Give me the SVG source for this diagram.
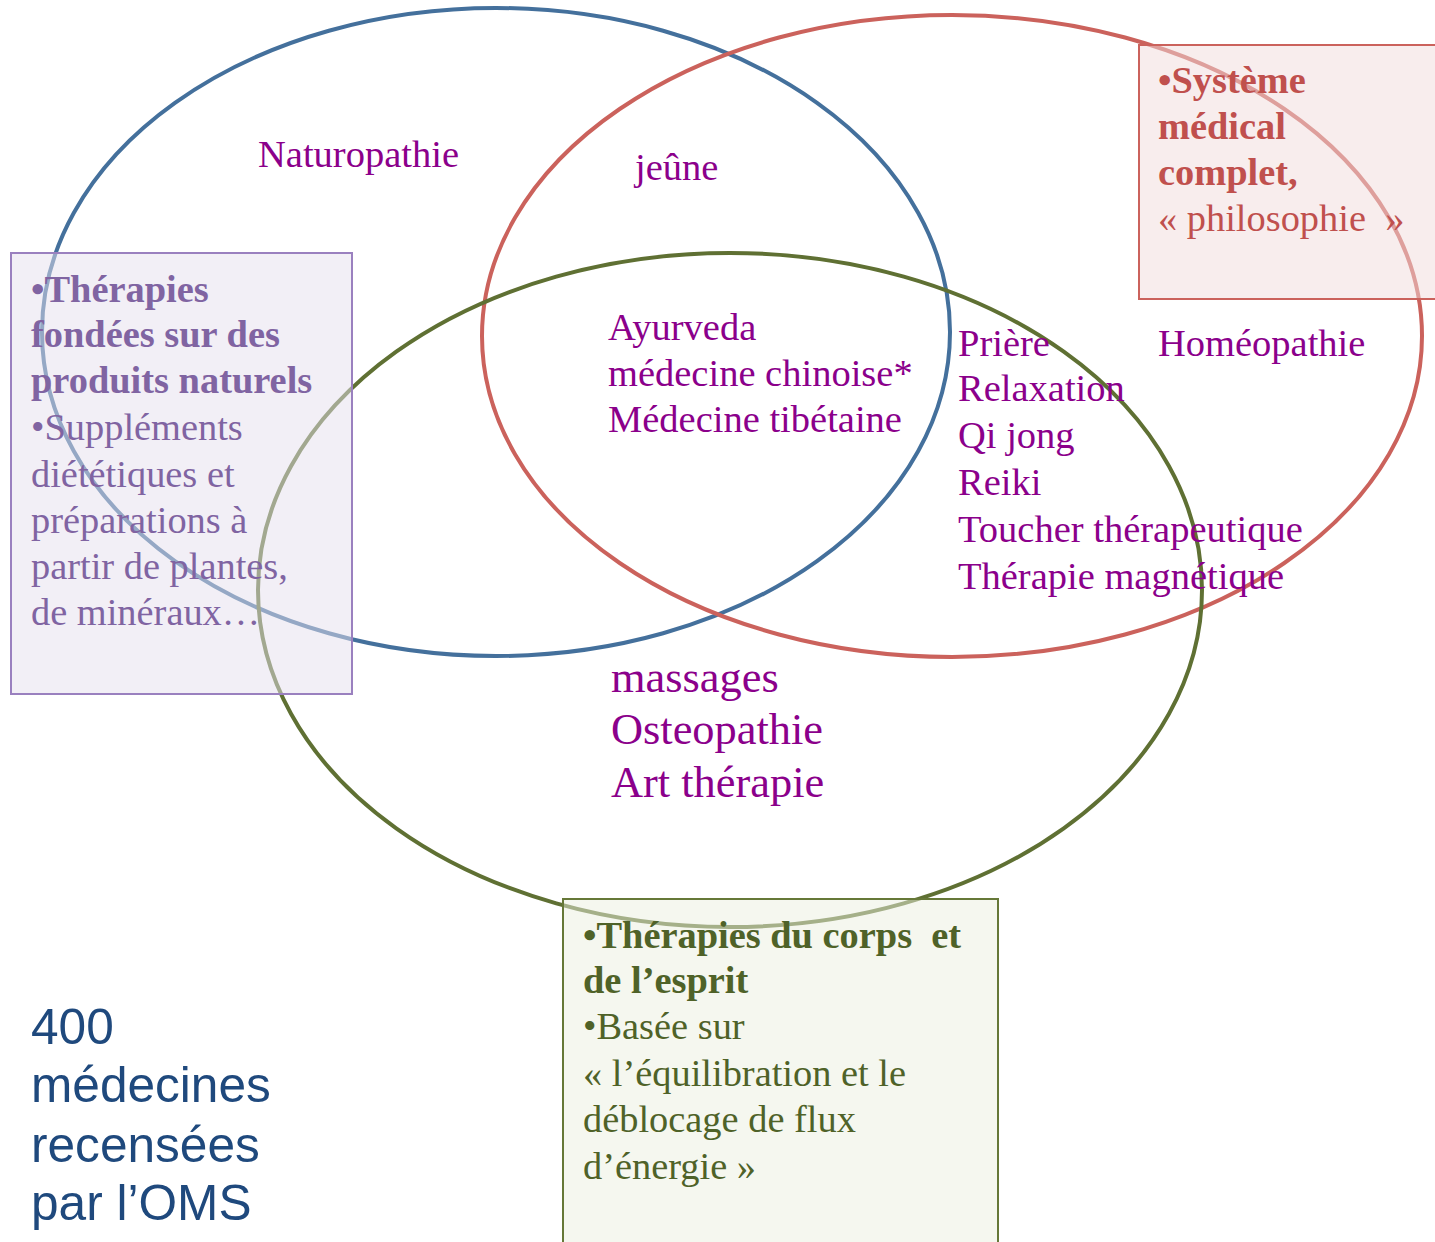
<svg xmlns="http://www.w3.org/2000/svg" width="1435" height="1242" viewBox="0 0 1435 1242">
<style>
.ell{fill:none;stroke-width:4}
.t{font-family:"Liberation Serif","Times New Roman",serif;font-size:38.5px;fill:#8B008B}
.big{font-size:44.4px}
.b{font-weight:bold}
.lt{font-family:"Liberation Serif","Times New Roman",serif;font-size:38.4px;fill:#8064A2}
.rt{font-family:"Liberation Serif","Times New Roman",serif;font-size:38.4px;fill:#C0504D}
.gt{font-family:"Liberation Serif","Times New Roman",serif;font-size:38.4px;fill:#4F6228}
.oms{font-family:"Liberation Sans",Arial,sans-serif;font-size:49.6px;fill:#1F497D}
</style>
<rect width="1435" height="1242" fill="#ffffff"/>
<g id="circles">
<ellipse class="ell" cx="496" cy="332" rx="454" ry="324" stroke="#44709C"/>
<ellipse class="ell" cx="952" cy="336" rx="470" ry="321" stroke="#CB625C"/>
<ellipse class="ell" cx="730" cy="590" rx="472" ry="337" stroke="#5F7033"/>
</g>
<g id="labels">
<text class="t" x="258" y="167">Naturopathie</text>
<text class="t" x="635" y="180">jeûne</text>
<text class="t" x="608" y="340">Ayurveda</text>
<text class="t" x="608" y="386">médecine chinoise*</text>
<text class="t" x="608" y="432">Médecine tibétaine</text>
<text class="t" x="958" y="356">Prière</text>
<text class="t" x="958" y="401">Relaxation</text>
<text class="t" x="958" y="448">Qi jong</text>
<text class="t" x="958" y="495">Reiki</text>
<text class="t" x="958" y="542">Toucher thérapeutique</text>
<text class="t" x="958" y="589">Thérapie magnétique</text>
<text class="t" x="1158" y="356">Homéopathie</text>
<text class="t big" x="611" y="692">massages</text>
<text class="t big" x="611" y="744">Osteopathie</text>
<text class="t big" x="611" y="797">Art thérapie</text>
</g>
<g id="box-naturels">
<rect x="11" y="253" width="341" height="441" fill="#E6E0EE" fill-opacity="0.5" stroke="#9A80BF" stroke-width="2"/>
<text class="lt b" x="31" y="302">•Thérapies</text>
<text class="lt b" x="31" y="347">fondées sur des</text>
<text class="lt b" x="31" y="393">produits naturels</text>
<text class="lt" x="31" y="440">•Suppléments</text>
<text class="lt" x="31" y="487">diététiques et</text>
<text class="lt" x="31" y="533">préparations à</text>
<text class="lt" x="31" y="579">partir de plantes,</text>
<text class="lt" x="31" y="625">de minéraux…</text>
</g>
<g id="box-systeme">
<rect x="1139" y="45" width="300" height="254" fill="#F2DCDB" fill-opacity="0.5" stroke="#CB625C" stroke-width="2"/>
<text class="rt b" x="1158" y="93">•Système</text>
<text class="rt b" x="1158" y="139">médical</text>
<text class="rt b" x="1158" y="185">complet,</text>
<text class="rt" x="1158" y="231" xml:space="preserve">« philosophie  »</text>
</g>
<g id="box-corps">
<rect x="563" y="899" width="435" height="350" fill="#EBF0E0" fill-opacity="0.5" stroke="#667838" stroke-width="2"/>
<text class="gt b" x="583" y="948" xml:space="preserve">•Thérapies du corps  et</text>
<text class="gt b" x="583" y="993">de l’esprit</text>
<text class="gt" x="583" y="1039">•Basée sur</text>
<text class="gt" x="583" y="1086">« l’équilibration et le</text>
<text class="gt" x="583" y="1132">déblocage de flux</text>
<text class="gt" x="583" y="1179">d’énergie »</text>
</g>
<g id="oms">
<text class="oms" x="31" y="1044">400</text>
<text class="oms" x="31" y="1102">médecines</text>
<text class="oms" x="31" y="1162">recensées</text>
<text class="oms" x="31" y="1220">par l’OMS</text>
</g>
</svg>
